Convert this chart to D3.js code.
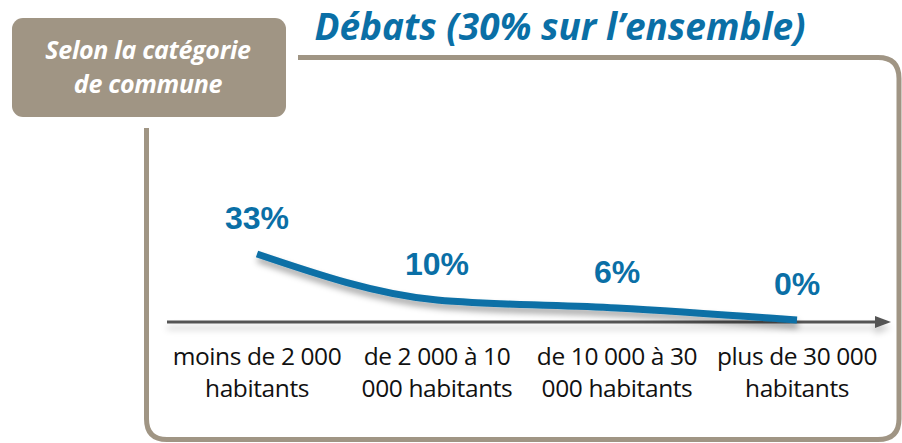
<!DOCTYPE html>
<html><head><meta charset="utf-8">
<script src="https://cdn.jsdelivr.net/npm/d3@7"></script>
<style>
html,body{margin:0;padding:0;background:#fff;}
svg{display:block;}
</style></head>
<body>
<script>
const categories = [["moins de 2 000","habitants"],["de 2 000 à 10","000 habitants"],["de 10 000 à 30","000 habitants"],["plus de 30 000","habitants"]];
const values = [33, 10, 6, 0];
const valueLabels = ["33%","10%","6%","0%"];
const titleText = "Débats (30% sur l’ensemble)";
const boxLines = ["Selon la catégorie","de commune"];

const W = 902, H = 443;
const blue = "#0a6fa6", taupe = "#a09584";
const svg = d3.select("body").append("svg").attr("width", W).attr("height", H);
const defs = svg.append("defs");
const f = defs.append("filter").attr("id","sh").attr("x","-10%").attr("y","-50%").attr("width","120%").attr("height","300%");
f.append("feDropShadow").attr("dx",1).attr("dy",5).attr("stdDeviation",3).attr("flood-color","#000").attr("flood-opacity",0.35);
const f2 = defs.append("filter").attr("id","sh2").attr("x","-10%").attr("y","-50%").attr("width","120%").attr("height","300%");
f2.append("feDropShadow").attr("dx",0).attr("dy",6).attr("stdDeviation",3).attr("flood-color","#000").attr("flood-opacity",0.2);

// frame
svg.append("path")
  .attr("d","M298,57.5 H878 Q899,57.5 899,78.5 V419 Q899,439.5 878,439.5 H167 Q146.5,439.5 146.5,419 V128")
  .attr("fill","none").attr("stroke",taupe).attr("stroke-width",5);

// box
svg.append("rect").attr("x",12).attr("y",18).attr("width",274).attr("height",99).attr("rx",11)
  .attr("fill",taupe);
svg.append("text").attr("x",148).attr("y",59).attr("text-anchor","middle")
  .attr("font-family","Open Sans").attr("font-style","italic").attr("font-weight","bold")
  .attr("font-size",25).attr("fill","#fff").attr("letter-spacing",-0.3)
  .selectAll("tspan").data(boxLines).join("tspan")
  .attr("x",148).attr("dy",(d,i)=>i?34:0).text(d=>d);

// title
svg.append("text").attr("x",560).attr("y",40).attr("text-anchor","middle")
  .attr("font-family","Open Sans").attr("font-style","italic").attr("font-weight","bold")
  .attr("font-size",37).attr("fill",blue).text(titleText);

// scales
const x = d3.scalePoint().domain(d3.range(categories.length)).range([257, 797]);
const y = d3.scaleLinear().domain([0, 33]).range([320, 254]);

// axis line with arrow
const axisG = svg.append("g").attr("filter","url(#sh2)");
axisG.append("line").attr("x1",167).attr("x2",878).attr("y1",322).attr("y2",322)
  .attr("stroke","#555").attr("stroke-width",3);
axisG.append("path").attr("d","M875,316 L891,322 L875,328 Z").attr("fill","#555");

// curve
const line = d3.line().x((d,i)=>x(i)).y(d=>y(d)).curve(d3.curveMonotoneX);
svg.append("path").datum(values).attr("d",line)
  .attr("fill","none").attr("stroke",blue).attr("stroke-width",7)
  .attr("filter","url(#sh)");

// value labels
svg.append("g").selectAll("text").data(values).join("text")
  .attr("x",(d,i)=>x(i)).attr("y",d=>y(d)-25).attr("text-anchor","middle")
  .attr("font-family","Liberation Sans").attr("font-weight","bold").attr("font-size",32)
  .attr("fill",blue).text((d,i)=>valueLabels[i]);

// category labels
const cg = svg.append("g").selectAll("text").data(categories).join("text")
  .attr("text-anchor","middle").attr("font-family","Open Sans").attr("font-size",24.5)
  .attr("letter-spacing",-0.4).attr("fill","#111");
cg.selectAll("tspan").data((d,i)=>d.map(t=>({t,i}))).join("tspan")
  .attr("x",d=>x(d.i)).attr("y",(d,j)=>j?397:365).text(d=>d.t);
</script>
</body></html>
